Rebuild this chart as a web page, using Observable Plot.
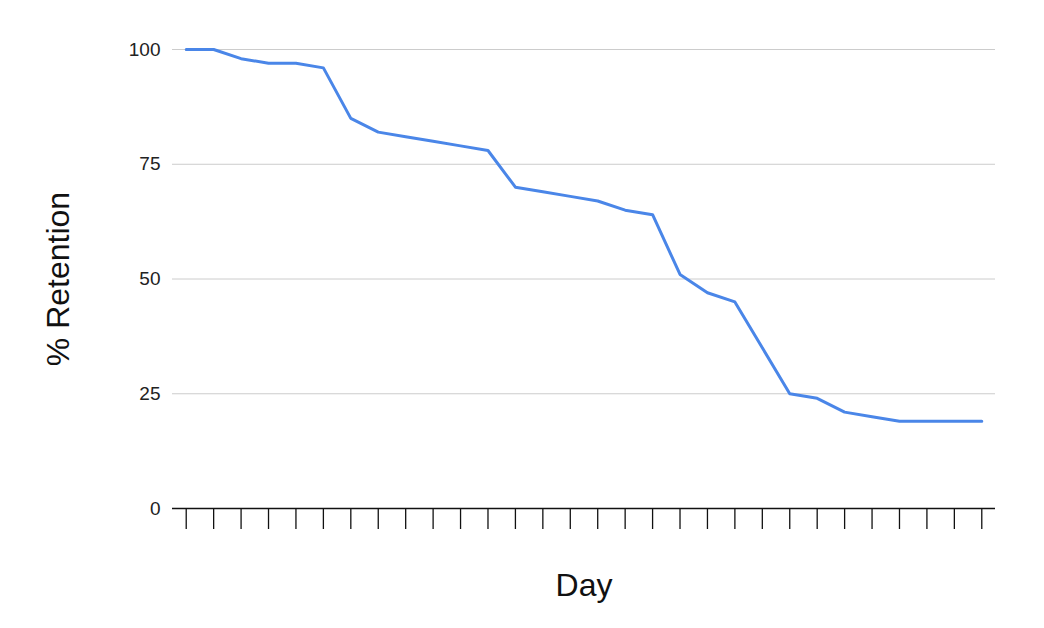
<!DOCTYPE html>
<html>
<head>
<meta charset="utf-8">
<script src="https://cdn.jsdelivr.net/npm/d3@7"></script>
<script src="https://cdn.jsdelivr.net/npm/@observablehq/plot@0.6"></script>
<style>
  html, body { margin: 0; padding: 0; background: #fff; }
</style>
</head>
<body>
<div id="chart"></div>
<script>
const days = d3.range(30);
const retention = [100, 100, 98, 97, 97, 96, 85, 82, 81, 80, 79, 78, 70, 69, 68, 67, 65, 64, 51, 47, 45, 35, 25, 24, 21, 20, 19, 19, 19, 19];
const yTicks = [0, 25, 50, 75, 100];
const xTitle = "Day";
const yTitle = "% Retention";

const data = days.map((d, i) => ({day: d, value: retention[i]}));

const chart = Plot.plot({
  width: 1044,
  height: 628,
  marginLeft: 172,
  marginRight: 49,
  marginTop: 49,
  marginBottom: 120,
  style: {fontFamily: "'Liberation Sans', Arial, sans-serif", color: "#222", background: "#fff"},
  x: {domain: [-0.5, 29.5], axis: null},
  y: {domain: [0, 100], axis: null},
  marks: [
    Plot.gridY(yTicks.filter(t => t > 0), {stroke: "#cccccc", strokeOpacity: 1, strokeWidth: 1}),
    Plot.axisY({ticks: yTicks, tickSize: 0, tickPadding: 12, fontSize: 19, label: null, fill: "#222"}),
    Plot.axisX({ticks: days, tickSize: 21, tickFormat: () => "", label: null, stroke: "#111", strokeWidth: 1.3}),
    Plot.ruleY([0], {stroke: "#111", strokeWidth: 1.5}),
    Plot.line(data, {x: "day", y: "value", stroke: "#4a86e8", strokeWidth: 3, strokeLinejoin: "round"}),
    Plot.text([xTitle], {frameAnchor: "bottom", dy: 77, fontSize: 32, textAnchor: "middle", lineAnchor: "middle", fill: "#111"}),
    Plot.text([yTitle], {frameAnchor: "left", dx: -114, rotate: -90, fontSize: 32, textAnchor: "middle", lineAnchor: "middle", fill: "#111"})
  ]
});
document.getElementById("chart").appendChild(chart);
</script>
</body>
</html>
